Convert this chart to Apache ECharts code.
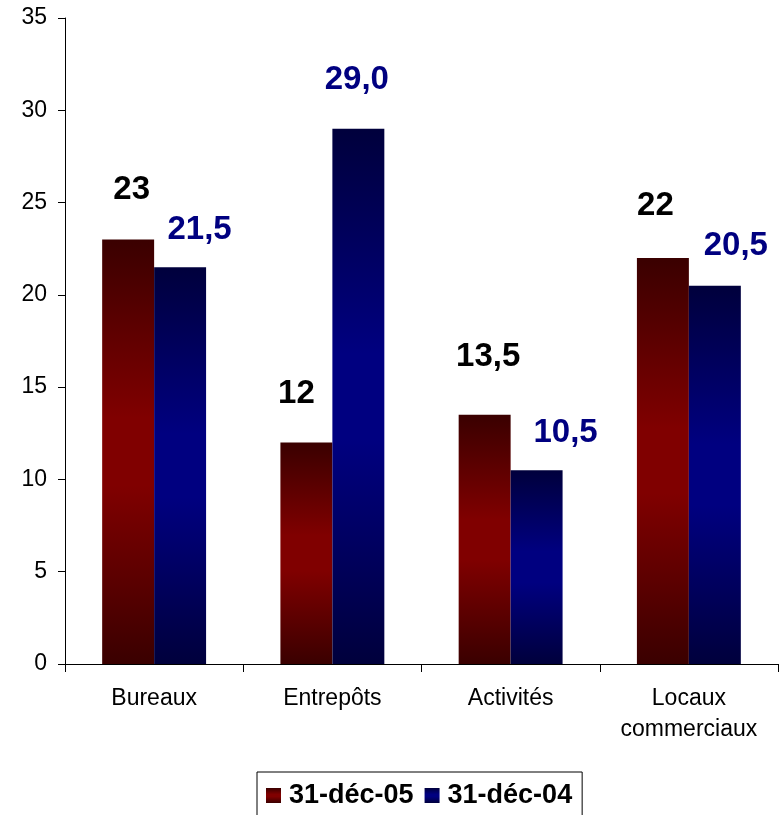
<!DOCTYPE html>
<html>
<head>
<meta charset="utf-8">
<title>Taux de vacance par type de locaux</title>
<script src="https://cdn.jsdelivr.net/npm/echarts@6/dist/echarts.min.js"></script>
<style>
  html, body { margin: 0; padding: 0; background: #fff; }
  #chart { width: 784px; height: 815px; }
</style>
</head>
<body>
<div id="chart"></div>
<script>
// Categories and series values
const categories = ['Bureaux', 'Entrepôts', 'Activités', 'Locaux\ncommerciaux'];
const seriesNames = ['31-déc-05', '31-déc-04'];
const values2005 = [23, 12, 13.5, 22];
const values2004 = [21.5, 29.0, 10.5, 20.5];
const yTicks = { min: 0, max: 35, interval: 5 };

// Hand-placed value labels: [dx, dy] from the top centre of each bar
const labelShift2005 = [[3.5, -50], [-10, -49], [3.5, -58], [-7.5, -52]];
const labelShift2004 = [[19.5, -37], [-1.5, -49], [29, -37], [21, -40]];

const FONT = "'Liberation Sans', Arial, sans-serif";

function barGradient(dark, bright) {
  return new echarts.graphic.LinearGradient(0, 0, 0, 1, [
    { offset: 0, color: dark },
    { offset: 0.42, color: bright },
    { offset: 0.58, color: bright },
    { offset: 1, color: dark }
  ]);
}

function withLabels(values, shifts, color, fmt) {
  return values.map((v, i) => ({
    value: v,
    label: {
      show: true,
      position: ['50%', 0],
      align: 'center',
      verticalAlign: 'middle',
      offset: shifts[i],
      color: color,
      fontFamily: FONT,
      fontWeight: 'bold',
      fontSize: 33,
      formatter: () => fmt(v)
    }
  }));
}

const fmtPlain = v => String(v).replace('.', ',');
const fmtOneDecimal = v => v.toFixed(1).replace('.', ',');

const chart = echarts.init(document.getElementById('chart'), null, { renderer: 'canvas' });

chart.setOption({
  animation: false,
  backgroundColor: '#ffffff',
  grid: { left: 65, right: 6, top: 18, bottom: 151, containLabel: false },
  legend: {
    data: seriesNames,
    left: 257,
    top: 772,
    orient: 'horizontal',
    icon: 'rect',
    itemWidth: 15,
    itemHeight: 15,
    itemGap: 11,
    padding: [10, 10, 24, 9],
    borderColor: '#000',
    borderWidth: 1,
    textStyle: {
      color: '#000',
      fontFamily: FONT,
      fontWeight: 'bold',
      fontSize: 27,
      padding: [0, 0, 0, 3]
    }
  },
  xAxis: {
    type: 'category',
    data: categories,
    boundaryGap: true,
    axisLine: { show: true, lineStyle: { color: '#000', width: 1 } },
    axisTick: { show: true, length: 8, alignWithLabel: false, lineStyle: { color: '#000' } },
    axisLabel: {
      color: '#000',
      fontFamily: FONT,
      fontSize: 23,
      lineHeight: 31,
      margin: 19,
      interval: 0
    },
    splitLine: { show: false }
  },
  yAxis: {
    type: 'value',
    min: yTicks.min,
    max: yTicks.max,
    interval: yTicks.interval,
    axisLine: { show: true, lineStyle: { color: '#000', width: 1 } },
    axisTick: { show: true, length: 7, lineStyle: { color: '#000' } },
    axisLabel: {
      color: '#000',
      fontFamily: FONT,
      fontSize: 23,
      margin: 18
    },
    splitLine: { show: false }
  },
  series: [
    {
      name: seriesNames[0],
      type: 'bar',
      barGap: '0%',
      barCategoryGap: '41.7%',
      itemStyle: { color: barGradient('#3a0000', '#800000') },
      data: withLabels(values2005, labelShift2005, '#000000', fmtPlain)
    },
    {
      name: seriesNames[1],
      type: 'bar',
      barGap: '0%',
      barCategoryGap: '41.7%',
      itemStyle: { color: barGradient('#00003c', '#000080') },
      data: withLabels(values2004, labelShift2004, '#000080', fmtOneDecimal)
    }
  ]
});
</script>
</body>
</html>
